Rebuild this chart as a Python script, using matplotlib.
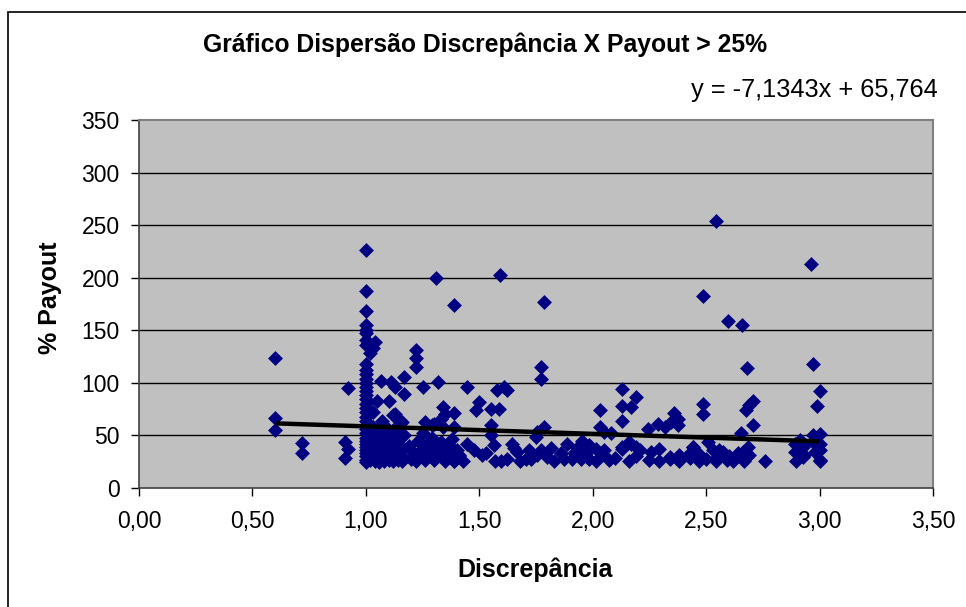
import matplotlib
matplotlib.use("Agg")
import matplotlib.pyplot as plt
from matplotlib.patches import Rectangle

plt.rcParams['font.family'] = ['Liberation Sans', 'DejaVu Sans']

title = "Gráfico Dispersão Discrepância X Payout > 25%"
x_label = "Discrepância"
y_label = "% Payout"
x_ticks = [0.0, 0.5, 1.0, 1.5, 2.0, 2.5, 3.0, 3.5]
x_tick_labels = ["0,00", "0,50", "1,00", "1,50", "2,00", "2,50", "3,00", "3,50"]
y_ticks = [0, 50, 100, 150, 200, 250, 300, 350]
y_tick_labels = ["0", "50", "100", "150", "200", "250", "300", "350"]

# trendline (as printed on the chart)
slope = -7.1343
intercept = 65.764
equation = "y = -7,1343x + 65,764"

# outliers and mid-range points
x_upper = [0.60, 0.60, 0.60, 0.72, 0.72, 0.92, 0.91, 0.92, 0.91,
           1.04, 1.03, 1.02, 1.065, 1.11, 1.13, 1.10, 1.05, 1.17, 1.17,
           1.12, 1.15, 1.07, 1.03, 1.13, 1.16, 1.22, 1.22, 1.22,
           1.25, 1.32, 1.31, 1.34, 1.35, 1.33, 1.26, 1.30, 1.34, 1.29,
           1.39, 1.389, 1.389, 1.447, 1.447, 1.484, 1.50, 1.55, 1.587,
           1.55, 1.55, 1.565, 1.58, 1.61, 1.624, 1.59, 1.645, 1.75, 1.756,
           1.771, 1.771, 1.786, 1.786,
           2.03, 2.03, 2.05, 2.08, 2.13, 2.13, 2.17, 2.19, 2.13, 2.16,
           2.19, 2.13, 2.242, 2.286, 2.32, 2.345, 2.36, 2.375, 2.375,
           2.44, 2.485, 2.485, 2.485, 2.507, 2.545, 2.595, 2.657, 2.68,
           2.705, 2.69, 2.676, 2.705, 2.654, 2.963, 2.97, 3.0, 2.99, 3.0,
           2.97, 2.912, 1.03, 1.05, 1.09, 1.14, 1.06, 1.08]
y_upper = [124, 67, 55, 43, 33, 95, 44, 37, 29,
           139, 133, 128, 102, 101, 96, 83, 83, 106, 89,
           69, 63, 64, 72, 70, 63, 131, 124, 115,
           96, 101, 200, 77, 70, 66, 63, 61, 58, 60,
           174, 71, 58, 96, 42, 74, 82, 75.5, 75.5,
           59.6, 50, 40.6, 93, 96, 93.5, 203, 42, 48.5, 53,
           115, 104, 177, 58,
           74, 58, 53, 52, 94.5, 78, 77, 87, 64, 44,
           39, 39, 56, 61, 58, 63, 71, 66, 60,
           39, 183, 80, 70, 44, 253.5, 159, 155, 114,
           83, 79, 74, 60, 52, 213, 118, 92, 78, 51,
           50, 46, 58, 55, 57, 53, 47, 60]

# column at discrepancy = 1,00
x_col1 = [1.00] * 34
y_col1 = [226, 187, 168, 155, 150, 147, 141, 136, 118, 112, 108, 104, 100,
          96, 92, 88, 85, 80, 76, 72, 68, 64, 60, 56, 52, 48, 45, 42, 39,
          36, 33, 30, 27, 25]

# dense low band (payout 25-55)
x_low = [1.01, 1.01, 1.02, 1.02, 1.03, 1.03, 1.04, 1.04, 1.05, 1.05, 1.05,
         1.06, 1.06, 1.06, 1.07, 1.07, 1.07, 1.08, 1.08, 1.08, 1.09, 1.09,
         1.10, 1.10, 1.10, 1.11, 1.11, 1.12, 1.12, 1.12, 1.13, 1.13, 1.14,
         1.14, 1.15, 1.15, 1.16, 1.16, 1.17, 1.17,
         1.19, 1.20, 1.21, 1.22, 1.23, 1.24, 1.25, 1.25, 1.26, 1.27, 1.28,
         1.29, 1.30, 1.31, 1.32, 1.33, 1.34, 1.35, 1.36, 1.37, 1.38, 1.39,
         1.40, 1.41,
         1.389, 1.43, 1.51, 1.57, 1.62, 1.667, 1.68, 1.72, 1.73, 1.771,
         1.80, 1.83, 1.86, 1.887, 1.91, 1.93, 1.953, 1.97, 1.99, 1.389,
         1.41, 1.477, 1.53, 1.595, 1.653, 1.705, 1.756, 1.815, 1.874, 1.918,
         1.948, 1.976,
         1.985, 2.015, 2.04, 2.07, 2.10, 2.16, 2.19, 2.25, 2.29, 2.34, 2.38,
         2.43, 2.47, 2.50, 2.545, 2.59,
         1.985, 2.014, 2.05, 2.13, 2.17, 2.21, 2.257, 2.29, 2.34, 2.38,
         2.426, 2.44, 2.47, 2.53, 2.55, 2.573,
         2.558, 2.617, 2.661, 2.683, 2.69, 2.669, 2.76, 2.60, 2.64,
         2.89, 2.89, 2.897, 2.93, 2.93, 2.98, 2.98, 3.0, 2.926, 2.926,
         3.0, 3.0, 3.0]
y_low = [30, 38, 45, 27, 33, 50, 26, 40, 29, 36, 47,
         25, 32, 42, 28, 38, 52, 26, 34, 45, 30, 40,
         27, 36, 48, 32, 42, 26, 38, 55, 30, 45, 27,
         35, 31, 41, 26, 37, 29, 50,
         40, 28, 34, 26, 45, 31, 38, 52, 27, 42, 33,
         48, 27, 38, 30, 44, 35, 26, 40, 31, 47, 26,
         36, 30,
         36, 26, 31, 26, 28, 34, 26, 36, 28, 36,
         29.5, 26, 33, 42, 28, 38, 45, 33, 38, 26,
         31, 36, 33, 26, 38, 28, 31, 38, 28, 33,
         28, 29.5,
         28, 26, 31, 27, 29, 26, 30, 27, 26, 28, 26,
         29, 26, 28, 26, 27,
         40.6, 37.5, 36, 37.5, 42, 36, 34, 37.5, 29.5, 31,
         32.7, 39, 32.7, 35.8, 29.5, 34.2,
         36, 26, 34, 39, 31, 26, 26, 30, 33,
         42, 34, 26, 42, 31, 42, 34, 26, 39, 29.5,
         42, 36, 27]

xs = x_upper + x_col1 + x_low
ys = y_upper + y_col1 + y_low

W, H = 966, 607
fig = plt.figure(figsize=(W / 100, H / 100), dpi=100)
fig.patch.set_facecolor('white')

# chart border (top and left visible)
fig.patches.append(Rectangle((8 / W, -0.1), 1.2, 1 - 12 / H + 0.1,
                             transform=fig.transFigure, fill=False,
                             edgecolor='black', linewidth=1.2))

ax = fig.add_axes([139 / W, 1 - 488 / H, (933 - 139) / W, (488 - 120) / H])
ax.set_facecolor('#C0C0C0')
ax.set_xlim(0, 3.5)
ax.set_ylim(0, 350)

for yv in y_ticks[1:-1]:
    ax.axhline(yv, color='black', linewidth=1.0, zorder=1)

ax.scatter(xs, ys, marker='D', s=50, color='#000080', edgecolors='#000080',
           linewidths=0.5, zorder=3)

xmin, xmax = min(xs), max(xs)
ax.plot([xmin, xmax], [slope * xmin + intercept, slope * xmax + intercept],
        color='black', linewidth=3.2, zorder=4, solid_capstyle='butt')

ax.set_xticks(x_ticks)
ax.set_xticklabels(x_tick_labels, fontsize=16.5)
ax.set_yticks(y_ticks)
ax.set_yticklabels(y_tick_labels, fontsize=16.5)
ax.tick_params(axis='x', direction='out', length=6, width=1, pad=10, color='black')
ax.tick_params(axis='y', direction='out', length=6, width=1, pad=8, color='black')

for side in ['left', 'bottom']:
    ax.spines[side].set_color('#404040')
    ax.spines[side].set_linewidth(1.2)
for side in ['top', 'right']:
    ax.spines[side].set_color('#808080')
    ax.spines[side].set_linewidth(1.5)

fig.text(485 / W, 1 - 45 / H, title, ha='center', va='center',
         fontsize=17.8, fontweight='bold')
fig.text(938 / W, 1 - 90 / H, equation, ha='right', va='center', fontsize=18.3)
fig.text(535 / W, 1 - 570 / H, x_label, ha='center', va='center',
         fontsize=18, fontweight='bold')
fig.text(50 / W, 1 - 298 / H, y_label, ha='center', va='center',
         fontsize=18, fontweight='bold', rotation=90)

fig.savefig('out.png', dpi=100)
